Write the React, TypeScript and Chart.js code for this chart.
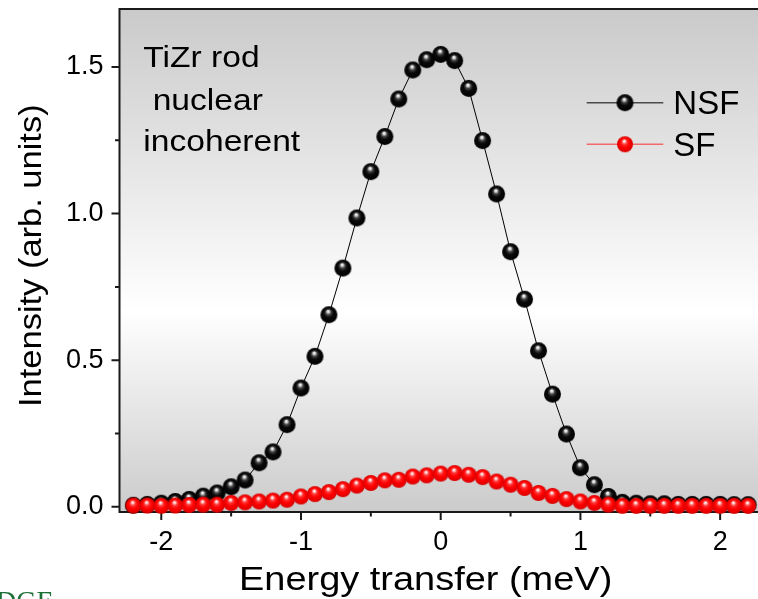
import React, { useEffect, useRef } from 'react';
import { Chart, registerables } from 'chart.js';
Chart.register(...registerables);

// ---------- data ----------
const energyTransfer = [-2.2, -2.1, -2.0, -1.9, -1.8, -1.7, -1.6, -1.5, -1.4, -1.3, -1.2, -1.1, -1.0, -0.9, -0.8, -0.7, -0.6, -0.5, -0.4, -0.3, -0.2, -0.1, 0.0, 0.1, 0.2, 0.3, 0.4, 0.5, 0.6, 0.7, 0.8, 0.9, 1.0, 1.1, 1.2, 1.3, 1.4, 1.5, 1.6, 1.7, 1.8, 1.9, 2.0, 2.1, 2.2];
const nsfIntensity = [0.005, 0.008, 0.012, 0.018, 0.025, 0.036, 0.047, 0.068, 0.091, 0.150, 0.187, 0.280, 0.405, 0.513, 0.655, 0.814, 0.985, 1.143, 1.263, 1.391, 1.490, 1.525, 1.543, 1.522, 1.427, 1.249, 1.067, 0.870, 0.708, 0.532, 0.384, 0.248, 0.133, 0.075, 0.035, 0.015, 0.012, 0.010, 0.010, 0.008, 0.008, 0.008, 0.008, 0.007, 0.007];
const sfIntensity = [0.004, 0.004, 0.003, 0.004, 0.006, 0.007, 0.007, 0.013, 0.015, 0.018, 0.021, 0.024, 0.035, 0.043, 0.050, 0.060, 0.072, 0.081, 0.090, 0.092, 0.103, 0.107, 0.113, 0.115, 0.109, 0.101, 0.086, 0.075, 0.064, 0.047, 0.037, 0.026, 0.018, 0.013, 0.007, 0.003, 0.003, 0.003, 0.003, 0.003, 0.003, 0.003, 0.003, 0.003, 0.003];
const seriesNames = ['NSF', 'SF'];
const xMinorTicks = [-1.5, -0.5, 0.5, 1.5];
const yMinorTicks = [0.25, 0.75, 1.25];
const annotationLines = ['TiZr rod', ' nuclear', 'incoherent'];
const xTitle = 'Energy transfer (meV)';
const yTitle = 'Intensity (arb. units)';
const watermark = 'DGE';

// ---------- styles ----------
const FONT = '"Liberation Sans", Arial, sans-serif';
const AXIS_COLOR = '#1a1a1a';
const blackStops: [number, string][] = [[0, '#ffffff'], [0.14, '#e0e0e0'], [0.32, '#454545'], [0.55, '#0a0a0a'], [1, '#000000']];
const redStops: [number, string][] = [[0, '#ffffff'], [0.14, '#ffd2d2'], [0.32, '#ff3535'], [0.6, '#ff0000'], [1, '#d80000']];

function makeSphere(r: number, stops: [number, string][]) {
  const size = Math.ceil(r * 2 + 2);
  const c = document.createElement('canvas');
  c.width = size;
  c.height = size;
  const g = c.getContext('2d')!;
  const cx = size / 2, cy = size / 2;
  const grad = g.createRadialGradient(cx - r * 0.1, cy - r * 0.45, 0, cx, cy, r);
  stops.forEach(([s, col]) => grad.addColorStop(s, col));
  g.fillStyle = grad;
  g.beginPath();
  g.arc(cx, cy, r, 0, Math.PI * 2);
  g.fill();
  return c;
}

function drawText(ctx: CanvasRenderingContext2D, text: string, x: number, y: number, size: number, sx: number, rotate = false, color = '#000', family = FONT) {
  ctx.save();
  ctx.translate(x, y);
  if (rotate) ctx.rotate(-Math.PI / 2);
  ctx.scale(sx, 1);
  ctx.font = `${size}px ${family}`;
  ctx.fillStyle = color;
  ctx.textAlign = 'left';
  ctx.textBaseline = 'alphabetic';
  ctx.fillText(text, 0, 0);
  ctx.restore();
}

export default function App() {
  const ref = useRef<HTMLCanvasElement>(null);

  useEffect(() => {
    const canvas = ref.current!;
    const blackBall = makeSphere(8.5, blackStops);
    const redBall = makeSphere(8, redStops);

    const decor = {
      id: 'decor',
      beforeDraw(chart: any) {
        const { ctx, chartArea: a } = chart;
        const g = ctx.createLinearGradient(0, a.top, 0, a.bottom);
        g.addColorStop(0, '#cacaca');
        g.addColorStop(0.6, '#ffffff');
        g.addColorStop(1, '#cbcbcb');
        ctx.save();
        ctx.fillStyle = g;
        ctx.fillRect(a.left, a.top, a.right - a.left, a.bottom - a.top);
        ctx.restore();
      },
      beforeDatasetsDraw(chart: any) {
        const { ctx, chartArea: a, scales } = chart;
        const xs = scales.x, ys = scales.y;
        ctx.save();
        ctx.strokeStyle = AXIS_COLOR;
        ctx.lineWidth = 2;
        ctx.beginPath();
        ctx.moveTo(a.left, a.top);
        ctx.lineTo(a.right, a.top);
        ctx.moveTo(a.left, a.top - 1);
        ctx.lineTo(a.left, a.bottom + 1);
        ctx.moveTo(a.left - 1, a.bottom);
        ctx.lineTo(a.right, a.bottom);
        xs.ticks.forEach((t: any) => {
          const p = xs.getPixelForValue(t.value);
          ctx.moveTo(p, a.bottom);
          ctx.lineTo(p, a.bottom + 8);
        });
        xMinorTicks.forEach((v) => {
          const p = xs.getPixelForValue(v);
          ctx.moveTo(p, a.bottom);
          ctx.lineTo(p, a.bottom + 4.5);
        });
        ys.ticks.forEach((t: any) => {
          const p = ys.getPixelForValue(t.value);
          ctx.moveTo(a.left, p);
          ctx.lineTo(a.left - 8, p);
        });
        yMinorTicks.forEach((v) => {
          const p = ys.getPixelForValue(v);
          ctx.moveTo(a.left, p);
          ctx.lineTo(a.left - 4.5, p);
        });
        ctx.stroke();
        ctx.restore();
      },
      afterDraw(chart: any) {
        const { ctx } = chart;
        // axis titles
        drawText(ctx, xTitle, 239, 590, 33, 1.15);
        drawText(ctx, yTitle, 41, 407, 30.5, 1.13, true);
        // annotation
        const annY = [66.7, 110, 150.7];
        annotationLines.forEach((t, i) => drawText(ctx, t, 143.3, annY[i], 30, 1.12));
        // legend
        const legend = [
          { name: seriesNames[0], y: 102.7, line: '#4a4a4a', ball: blackBall, base: 114.3 },
          { name: seriesNames[1], y: 144.3, line: '#f06a6a', ball: redBall, base: 156 },
        ];
        legend.forEach((l) => {
          ctx.save();
          ctx.strokeStyle = l.line;
          ctx.lineWidth = 1.5;
          ctx.beginPath();
          ctx.moveTo(586.7, l.y);
          ctx.lineTo(663.3, l.y);
          ctx.stroke();
          ctx.drawImage(l.ball, 625 - l.ball.width / 2, l.y - l.ball.height / 2);
          ctx.restore();
          drawText(ctx, l.name, 673.3, l.base, 33, 1.0);
        });
        // cut-off watermark fragment
        drawText(ctx, watermark, -4, 610, 28, 1.0, false, '#1a7035', '"Liberation Serif", "Times New Roman", serif');
      },
    };

    const chart = new Chart(canvas, {
      type: 'line',
      data: {
        datasets: [
          {
            label: seriesNames[1],
            data: energyTransfer.map((x, i) => ({ x, y: sfIntensity[i] })),
            borderColor: '#ff0000',
            borderWidth: 1,
            pointStyle: redBall as any,
            pointRadius: 8,
            tension: 0,
            clip: false as any,
            order: 0,
          },
          {
            label: seriesNames[0],
            data: energyTransfer.map((x, i) => ({ x, y: nsfIntensity[i] })),
            borderColor: '#000000',
            borderWidth: 1,
            pointStyle: blackBall as any,
            pointRadius: 8.5,
            tension: 0,
            clip: false as any,
            order: 1,
          },
        ],
      },
      options: {
        responsive: false,
        animation: false,
        devicePixelRatio: 1,
        layout: { autoPadding: false, padding: { top: 9, left: 0, right: 0, bottom: 0 } },
        plugins: { legend: { display: false }, tooltip: { enabled: false }, title: { display: false } },
        scales: {
          x: {
            type: 'linear',
            min: -2.299,
            max: 2.271,
            grid: { display: false, drawTicks: false },
            border: { display: false },
            ticks: {
              stepSize: 1,
              includeBounds: false,
              padding: 17,
              color: '#000',
              maxRotation: 0,
              autoSkip: false,
              font: { family: FONT, size: 27, lineHeight: 1 },
              callback: (v: any) => String(Math.round(Number(v))),
            },
            afterFit: (s: any) => {
              s.height = 87;
              s.paddingLeft = 0;
              s.paddingRight = 0;
            },
          },
          y: {
            type: 'linear',
            min: -0.018,
            max: 1.698,
            grid: { display: false, drawTicks: false },
            border: { display: false },
            ticks: {
              stepSize: 0.5,
              includeBounds: false,
              padding: 16,
              color: '#000',
              autoSkip: false,
              font: { family: FONT, size: 27, lineHeight: 1 },
              callback: (v: any) => Number(v).toFixed(1),
            },
            afterFit: (s: any) => {
              s.width = 119.5;
              s.paddingTop = 0;
              s.paddingBottom = 0;
            },
          },
        },
      },
      plugins: [decor],
    });

    return () => chart.destroy();
  }, []);

  return (
    <div style={{ position: 'absolute', left: 0, top: 0, width: 758, height: 599, background: '#fff' }}>
      <canvas ref={ref} width={758} height={599} style={{ display: 'block', width: 758, height: 599 }} />
    </div>
  );
}
